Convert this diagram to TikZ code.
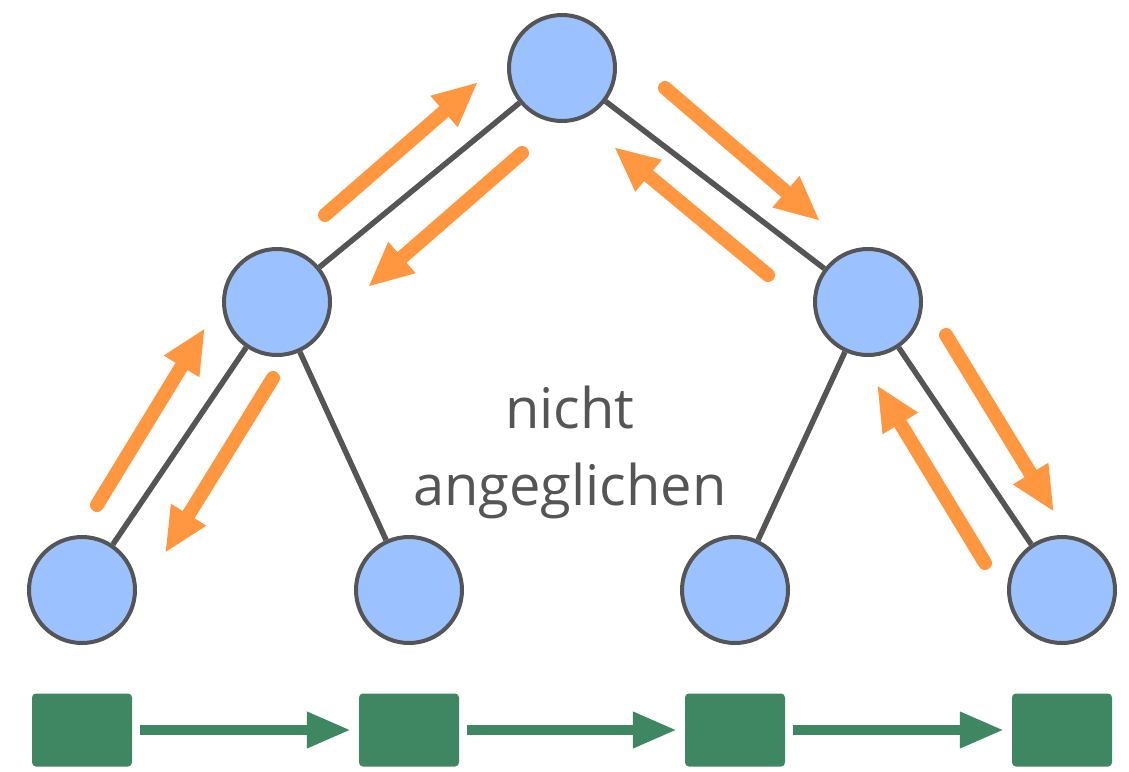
\documentclass[tikz,border=0pt]{standalone}
\usepackage{fontspec}
\setmainfont{Open Sans}
\usetikzlibrary{arrows.meta,positioning}

\definecolor{treeblue}{HTML}{9BC2FF}
\definecolor{edgegray}{HTML}{555555}
\definecolor{walkorange}{HTML}{FF9640}
\definecolor{listgreen}{HTML}{3F8762}

\begin{document}
\begin{tikzpicture}[
    x=1pt, y=-1pt,
    treenode/.style={circle, draw=edgegray, line width=4pt, fill=treeblue, minimum size=106pt, inner sep=0pt},
    leafbox/.style={rectangle, rounded corners=4pt, fill=listgreen, minimum width=100pt, minimum height=73pt, inner sep=0pt},
    treeedge/.style={draw=edgegray, line width=5.5pt},
    walk/.style={draw=walkorange, line width=14pt, line cap=round, -{Triangle[length=45pt,width=38pt]}},
    link/.style={draw=listgreen, line width=10pt, -{Triangle[length=44pt,width=34pt]}}
]
\useasboundingbox (0,0) rectangle (1129,771);

% tree
\node[treenode] (root) at (562,68) {};
\node[treenode] (left) at (277,302) {};
\node[treenode] (right) at (868,302) {};
\node[treenode] (leafa) at (82,590) {};
\node[treenode] (leafb) at (409,590) {};
\node[treenode] (leafc) at (735,590) {};
\node[treenode] (leafd) at (1062,590) {};

\draw[treeedge] (root) -- (left);
\draw[treeedge] (root) -- (right);
\draw[treeedge] (left) -- (leafa);
\draw[treeedge] (left) -- (leafb);
\draw[treeedge] (right) -- (leafc);
\draw[treeedge] (right) -- (leafd);

% leaf list
\node[leafbox] (boxa) at (82,730) {};
\node[leafbox] (boxb) at (409,730) {};
\node[leafbox] (boxc) at (735,730) {};
\node[leafbox] (boxd) at (1062,730) {};

\draw[link] ([xshift=8pt]boxa.east) -- ([xshift=-8pt]boxb.west);
\draw[link] ([xshift=8pt]boxb.east) -- ([xshift=-8pt]boxc.west);
\draw[link] ([xshift=8pt]boxc.east) -- ([xshift=-8pt]boxd.west);

% walk arrows
\coordinate (upa) at (325,215);   \coordinate (upb) at (478,82);
\coordinate (dna) at (522,153);   \coordinate (dnb) at (368,287);
\coordinate (rda) at (665,88);    \coordinate (rdb) at (820,221);
\coordinate (rua) at (768,275);   \coordinate (rub) at (614,147);
\coordinate (lua) at (97,505);    \coordinate (lub) at (205,328);
\coordinate (lda) at (273,378);   \coordinate (ldb) at (165,553);
\coordinate (xda) at (946,335);   \coordinate (xdb) at (1054,512);
\coordinate (xua) at (985,563);   \coordinate (xub) at (877,385);

\draw[walk] (upa) -- (upb);
\draw[walk] (dna) -- (dnb);
\draw[walk] (rda) -- (rdb);
\draw[walk] (rua) -- (rub);
\draw[walk] (lua) -- (lub);
\draw[walk] (lda) -- (ldb);
\draw[walk] (xda) -- (xdb);
\draw[walk] (xua) -- (xub);

% label
\node[text=edgegray, align=center, inner sep=0pt, font=\fontsize{56}{77}\selectfont] (label) at (570,452) {nicht\\angeglichen};

\end{tikzpicture}
\end{document}
